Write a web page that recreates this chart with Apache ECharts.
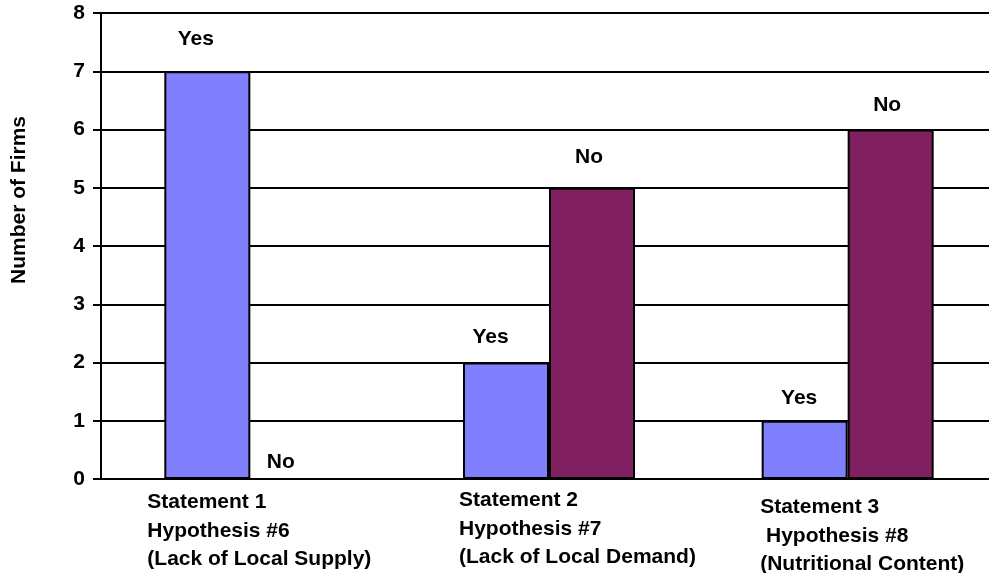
<!DOCTYPE html>
<html>
<head>
<meta charset="utf-8">
<style>
  html, body { margin: 0; padding: 0; background: #ffffff; }
  #chart { width: 989px; height: 573px; }
</style>
<script src="https://cdn.jsdelivr.net/npm/echarts@6/dist/echarts.min.js"></script>
</head>
<body>
<div id="chart"></div>
<script>
// Survey answers per statement
const categories = [
  'Statement 1\nHypothesis #6\n(Lack of Local Supply)',
  'Statement 2\nHypothesis #7\n(Lack of Local Demand)',
  'Statement 3\n Hypothesis #8\n(Nutritional Content)'
];
const yesValues = [7, 2, 1];
const noValues = [0, 5, 6];
const seriesNames = ['Yes', 'No'];
const axisTitle = 'Number of Firms';

// Hand-placed label nudges (pixels) for each bar's Yes/No tag
const yesLabelOffsets = [[-11.5, -22], [-15.5, -15], [-5.5, -12]];
const noLabelOffsets = [[-12.5, -5.5], [-3, -20], [-3.5, -14]];
// Where each category caption starts, relative to the category centre on the baseline
const captionShift = [[-103, 9], [-90, 7], [-87.5, 14]];

const FONT = '"Liberation Sans", Arial, Helvetica, sans-serif';
const FONT_SIZE = 21;

const chart = echarts.init(document.getElementById('chart'), null, { renderer: 'canvas' });

function barData(values, offsets) {
  return values.map((v, i) => ({
    value: v,
    label: { offset: offsets[i] }
  }));
}

const labelStyle = {
  show: true,
  position: 'top',
  distance: 0,
  formatter: '{a}',
  color: '#000',
  fontFamily: FONT,
  fontWeight: 'bold',
  fontSize: FONT_SIZE
};

chart.setOption({
  animation: false,
  backgroundColor: '#ffffff',
  // plot area runs a little past the right edge of the canvas
  grid: {
    left: 101, top: 13, width: 896, height: 466,
    containLabel: false,
    outerBoundsMode: 'none'
  },
  xAxis: {
    type: 'category',
    data: categories,
    axisLine: { show: true, lineStyle: { color: '#000', width: 2 } },
    axisTick: { show: false },
    axisLabel: { show: false },
    splitLine: { show: false }
  },
  yAxis: {
    type: 'value',
    min: 0,
    max: 8,
    interval: 1,
    axisLine: { show: true, lineStyle: { color: '#000', width: 2 } },
    axisTick: { show: true, inside: false, length: 8, lineStyle: { color: '#000', width: 2 } },
    axisLabel: {
      color: '#000',
      fontFamily: FONT,
      fontWeight: 'bold',
      fontSize: FONT_SIZE,
      margin: 16
    },
    splitLine: { show: true, lineStyle: { color: '#000', width: 2 } }
  },
  series: [
    {
      name: seriesNames[0],
      type: 'bar',
      barWidth: 86,
      barGap: '0%',
      data: barData(yesValues, yesLabelOffsets),
      itemStyle: { color: '#8080FF', borderColor: '#000', borderWidth: 2 },
      label: labelStyle
    },
    {
      name: seriesNames[1],
      type: 'bar',
      barWidth: 86,
      barGap: '0%',
      data: barData(noValues, noLabelOffsets),
      itemStyle: { color: '#802060', borderColor: '#000', borderWidth: 2 },
      label: labelStyle
    }
  ]
});

// Captions under each group and the rotated value-axis title
const graphics = categories.map((text, i) => {
  const p = chart.convertToPixel({ gridIndex: 0 }, [i, 0]);
  return {
    type: 'text',
    x: p[0] + captionShift[i][0],
    y: p[1] + captionShift[i][1],
    silent: true,
    style: {
      text: text,
      fill: '#000',
      font: 'bold ' + FONT_SIZE + 'px ' + FONT,
      lineHeight: 28.5,
      align: 'left',
      verticalAlign: 'top'
    }
  };
});

graphics.push({
  type: 'text',
  x: 19,
  y: 200,
  rotation: Math.PI / 2,
  silent: true,
  style: {
    text: axisTitle,
    fill: '#000',
    font: 'bold ' + FONT_SIZE + 'px ' + FONT,
    align: 'center',
    verticalAlign: 'middle'
  }
});

chart.setOption({ graphic: graphics });
</script>
</body>
</html>
